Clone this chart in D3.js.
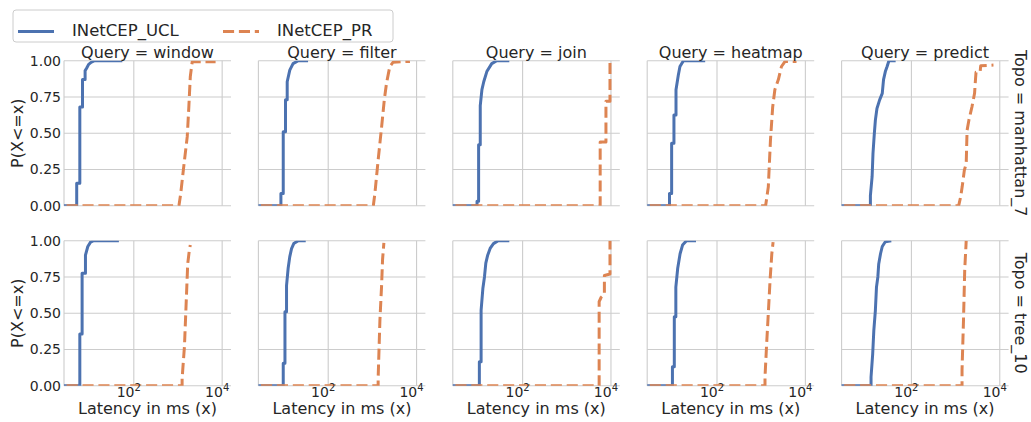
<!DOCTYPE html>
<html>
<head>
<meta charset="utf-8">
<script src="https://cdnjs.cloudflare.com/ajax/libs/d3/7.8.5/d3.min.js"></script>
<style>
	body { margin: 0; background: #fff; }
	text { font-family: "DejaVu Sans", sans-serif; fill: #262626; }
</style>
</head>
<body>
<script>
	// facets
	var queries = ["window", "filter", "join", "heatmap", "predict"],
		topos = ["manhattan_7", "tree_10"],
		seriesNames = ["INetCEP_UCL", "INetCEP_PR"],
		yTicks = [0, 0.25, 0.5, 0.75, 1],
		xTicks = [100, 10000],
		xTickExp = ["2", "4"];

	// ECDF vertices [latency ms, P(X<=x)], one list per query
	var uclManhattan = [
		[[5.1,0],[5.1,0.155],[6.0,0.155],[6.0,0.68],[6.9,0.68],[6.9,0.87],[7.9,0.87],[7.9,0.93],[8.6,0.95],[9.5,0.975],[11,0.99],[13,1],[55,1]],
		[[8.5,0],[8.5,0.085],[9.6,0.085],[9.6,0.51],[10.8,0.51],[10.8,0.73],[11.8,0.73],[11.8,0.855],[13.5,0.935],[16,0.98],[21,1],[35,1]],
		[[9.3,0],[9.3,0.03],[10.1,0.03],[10.1,0.42],[11.0,0.42],[11.0,0.69],[12.0,0.80],[13.2,0.855],[15.5,0.925],[20,0.98],[26,1],[50,1]],
		[[8.4,0],[8.4,0.085],[9.4,0.085],[9.4,0.43],[10.6,0.43],[10.6,0.625],[11.8,0.625],[11.8,0.80],[13.3,0.90],[14.5,0.96],[17.4,1],[54,1]],
		[[11.8,0],[11.8,0.07],[12.9,0.2],[13.5,0.36],[14.5,0.5],[15.3,0.59],[16.6,0.67],[19.1,0.73],[21.9,0.775],[23.4,0.87],[25.7,0.925],[28.2,0.96],[31,1],[44,1]]
	];
	var prManhattan = [
		[[1050,0],[1150,0.08],[1350,0.27],[1620,0.476],[1760,0.68],[1900,0.89],[2100,0.993],[7100,0.993]],
		[[1050,0],[1140,0.085],[1350,0.315],[1620,0.545],[1860,0.73],[2090,0.845],[2480,0.96],[2950,0.99],[7080,0.995]],
		[[5700,0],[5700,0.44],[7700,0.44],[7700,0.72],[9500,0.72],[9500,0.99]],
		[[1260,0],[1450,0.13],[1620,0.45],[1820,0.68],[2040,0.80],[2450,0.87],[2880,0.96],[3470,0.995],[6300,0.995]],
		[[1175,0],[1300,0.06],[1410,0.13],[1580,0.245],[1740,0.29],[1820,0.52],[2000,0.59],[2340,0.68],[2690,0.775],[2820,0.87],[2900,0.92],[3600,0.925],[3700,0.965],[7200,0.97]]
	];
	var uclTree = [
		[[6.0,0],[6.0,0.356],[6.76,0.356],[6.76,0.775],[8.05,0.775],[8.05,0.90],[9.1,0.96],[10.5,0.99],[12.4,1],[46,1]],
		[[9.6,0],[9.6,0.155],[10.5,0.155],[10.5,0.51],[11.4,0.51],[11.4,0.69],[12.4,0.81],[13.5,0.89],[14.8,0.945],[16.6,0.98],[21,1],[31,1]],
		[[10.5,0],[10.5,0.165],[11.5,0.165],[11.5,0.52],[12.6,0.67],[13.7,0.75],[14.7,0.845],[16.2,0.90],[18.4,0.947],[21.9,0.98],[28,1],[50,1]],
		[[9.8,0],[9.8,0.13],[10.8,0.13],[10.8,0.476],[11.7,0.476],[11.7,0.68],[12.9,0.81],[14.6,0.91],[16.6,0.97],[20.4,1],[33.5,1]],
		[[12.2,0],[12.2,0.06],[13.3,0.22],[14.1,0.38],[15.3,0.52],[16.2,0.68],[17.4,0.75],[18.2,0.84],[20,0.91],[21.9,0.96],[25.7,0.993],[35,1]]
	];
	var prTree = [
		[[1240,0],[1240,0.05],[1400,0.27],[1550,0.61],[1660,0.84],[1800,0.93],[1900,0.97]],
		[[1350,0],[1350,0.05],[1480,0.45],[1610,0.68],[1700,0.87],[1820,0.985]],
		[[5400,0],[5400,0.58],[6000,0.61],[7100,0.63],[7100,0.76],[9500,0.77],[9500,1.0]],
		[[1220,0],[1220,0.06],[1320,0.27],[1450,0.5],[1590,0.73],[1740,0.91],[1860,0.99]],
		[[1400,0],[1400,0.11],[1510,0.45],[1610,0.8],[1740,1.0]]
	];

	var data = [[uclManhattan, prManhattan], [uclTree, prTree]];

	var W = 1031, H = 422,
		left0 = 64, colStep = 194.4, pw = 167,
		top0 = 60.7, rowStep = 180, ph = 145,
		colors = ["#4c72b0", "#dd8452"],
		dashes = [null, "11.1,4.8"],
		lw = 3,
		grid = "#cccccc";

	var x = d3.scaleLog().domain([Math.pow(10, 0.42), Math.pow(10, 4.2)]).range([0, pw]),
		y = d3.scaleLinear().domain([0, 1]).range([ph, 0]);

	var line = d3.line()
		.x(function(d) { return x(d[0]); })
		.y(function(d) { return y(d[1]); });

	var svg = d3.select("body").append("svg")
		.attr("width", W)
		.attr("height", H);

	topos.forEach(function(topo, r) {
		queries.forEach(function(q, c) {
			var g = svg.append("g")
				.attr("transform", "translate(" + (left0 + c * colStep) + "," + (top0 + r * rowStep) + ")");

			var clipId = "clip-" + r + "-" + c;
			g.append("clipPath").attr("id", clipId)
				.append("rect").attr("width", pw).attr("height", ph);

			// grid
			g.selectAll(".hg").data(yTicks).enter().append("line")
				.attr("x1", 0).attr("x2", pw)
				.attr("y1", function(d) { return y(d); })
				.attr("y2", function(d) { return y(d); })
				.attr("stroke", grid).attr("stroke-width", 1.1);
			g.selectAll(".vg").data(xTicks).enter().append("line")
				.attr("x1", function(d) { return x(d); })
				.attr("x2", function(d) { return x(d); })
				.attr("y1", 0).attr("y2", ph)
				.attr("stroke", grid).attr("stroke-width", 1.1);
			g.append("line")
				.attr("x1", 0).attr("x2", 0).attr("y1", 0).attr("y2", ph)
				.attr("stroke", grid).attr("stroke-width", 1.1);

			// ecdf lines
			data[r].forEach(function(series, s) {
				var pts = [[x.domain()[0] / 2, 0]].concat(series[c]);
				g.append("path")
					.attr("d", line(pts))
					.attr("clip-path", "url(#" + clipId + ")")
					.attr("fill", "none")
					.attr("stroke", colors[s])
					.attr("stroke-width", lw)
					.attr("stroke-dasharray", dashes[s])
					.attr("stroke-linejoin", "round");
			});

			if (r === 0) {
				g.append("text")
					.attr("x", pw / 2).attr("y", -2.5)
					.attr("text-anchor", "middle")
					.attr("font-size", "16px")
					.text("Query = " + q);
			}

			if (c === 0) {
				g.selectAll(".yt").data(yTicks).enter().append("text")
					.attr("x", -3).attr("y", function(d) { return y(d); })
					.attr("dy", "0.36em")
					.attr("text-anchor", "end")
					.attr("font-size", "14px")
					.text(function(d) { return d3.format(".2f")(d); });
				g.append("text")
					.attr("transform", "translate(-41," + (ph / 2) + ") rotate(-90)")
					.attr("text-anchor", "middle")
					.attr("font-size", "16px")
					.text("P(X<=x)");
			}

			if (r === topos.length - 1) {
				var tl = g.selectAll(".xt").data(xTicks).enter().append("text")
					.attr("x", function(d) { return x(d) - 5; })
					.attr("y", ph + 11.5)
					.attr("text-anchor", "middle")
					.attr("font-size", "14px");
				tl.append("tspan").text("10");
				tl.append("tspan")
					.attr("dy", -6)
					.attr("font-size", "10px")
					.text(function(d, i) { return xTickExp[i]; });
				g.append("text")
					.attr("x", pw / 2).attr("y", ph + 28)
					.attr("text-anchor", "middle")
					.attr("font-size", "16px")
					.text("Latency in ms (x)");
			}

			if (c === queries.length - 1) {
				g.append("text")
					.attr("transform", "translate(" + (pw + 6) + "," + (ph / 2) + ") rotate(90)")
					.attr("text-anchor", "middle")
					.attr("font-size", "16px")
					.text("Topo = " + topo);
			}
		});
	});

	// legend
	var lg = svg.append("g");
	lg.append("rect")
		.attr("x", 13).attr("y", 10).attr("width", 380).attr("height", 32)
		.attr("rx", 3)
		.attr("fill", "#fff").attr("stroke", grid).attr("stroke-width", 1);
	var lx = [18, 223];
	seriesNames.forEach(function(n, s) {
		lg.append("line")
			.attr("x1", lx[s]).attr("x2", lx[s] + 36)
			.attr("y1", 31.5).attr("y2", 31.5)
			.attr("stroke", colors[s]).attr("stroke-width", lw)
			.attr("stroke-dasharray", dashes[s]);
		lg.append("text")
			.attr("x", lx[s] + 54).attr("y", 35.5)
			.attr("font-size", "16.5px")
			.text(n);
	});
</script>
</body>
</html>
